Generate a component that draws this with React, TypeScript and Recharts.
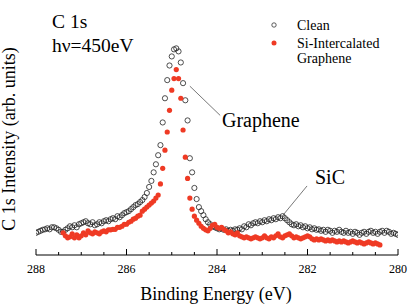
import React from 'react';
import { ScatterChart, Scatter, XAxis, YAxis, ReferenceLine } from 'recharts';

const W = 409;
const H = 305;
const FONT = '"Liberation Serif", "Times New Roman", "DejaVu Serif", serif';
const RED = '#ef3a24';

// Energy grid (eV) for each series
const cleanStartEV = 288.0;
const redStartEV = 287.4;
const stepEV = 0.05;

// Intensity (arb. units)
const cleanValues = [
  0.44, 0.46, 0.48, 0.50, 0.51, 0.53, 0.51, 0.55, 0.55, 0.53,
  0.50, 0.46, 0.46, 0.50, 0.53, 0.57, 0.55, 0.59, 0.55, 0.61,
  0.63, 0.65, 0.67, 0.63, 0.61, 0.65, 0.59, 0.61, 0.65, 0.63,
  0.67, 0.69, 0.67, 0.71, 0.73, 0.71, 0.77, 0.75, 0.79, 0.83,
  0.85, 0.87, 0.91, 0.95, 0.99, 1.01, 1.05, 1.09, 1.15, 1.23,
  1.35, 1.47, 1.64, 1.80, 1.98, 2.18, 2.63, 3.11, 3.47, 3.76,
  3.94, 4.08, 4.10, 4.04, 3.82, 3.41, 3.07, 2.67, 1.92, 1.64,
  1.33, 1.11, 0.95, 0.87, 0.79, 0.71, 0.65, 0.61, 0.57, 0.55,
  0.53, 0.51, 0.53, 0.50, 0.51, 0.48, 0.50, 0.48, 0.51, 0.50,
  0.53, 0.51, 0.57, 0.55, 0.61, 0.59, 0.63, 0.65, 0.63, 0.67,
  0.65, 0.69, 0.67, 0.71, 0.69, 0.73, 0.71, 0.75, 0.73, 0.77,
  0.73, 0.69, 0.65, 0.61, 0.59, 0.61, 0.57, 0.59, 0.55, 0.57,
  0.53, 0.55, 0.51, 0.53, 0.50, 0.51, 0.48, 0.50, 0.46, 0.50,
  0.48, 0.44, 0.48, 0.46, 0.50, 0.46, 0.44, 0.48, 0.44, 0.46,
  0.42, 0.46, 0.44, 0.40, 0.44, 0.46, 0.42, 0.46, 0.48, 0.44,
  0.46, 0.42, 0.46, 0.48, 0.44, 0.48, 0.46, 0.42, 0.44, 0.42, 0.40,
];

const redValues = [
  0.44, 0.38, 0.34, 0.36, 0.42, 0.34, 0.40, 0.34,
  0.38, 0.44, 0.40, 0.48, 0.44, 0.42, 0.46, 0.44, 0.42, 0.46,
  0.48, 0.46, 0.50, 0.50, 0.51, 0.51, 0.55, 0.55, 0.57, 0.61,
  0.61, 0.65, 0.67, 0.71, 0.73, 0.77, 0.79, 0.87, 0.91, 0.95,
  0.99, 1.03, 1.07, 1.13, 1.19, 1.41, 1.72, 2.08, 2.44, 2.87,
  3.27, 3.50, 3.68, 3.50, 3.11, 2.48, 1.94, 1.52, 1.13, 0.91,
  0.77, 0.69, 0.63, 0.57, 0.53, 0.50, 0.48, 0.53, 0.59, 0.61,
  0.55, 0.53, 0.55, 0.51, 0.48, 0.44, 0.46, 0.42, 0.40, 0.44,
  0.38, 0.36, 0.34, 0.36, 0.34, 0.32, 0.34, 0.36, 0.34, 0.32,
  0.34, 0.38, 0.34, 0.32, 0.36, 0.34, 0.38, 0.42, 0.36, 0.34,
  0.38, 0.40, 0.42, 0.38, 0.34, 0.36, 0.34, 0.32, 0.34, 0.36,
  0.38, 0.36, 0.32, 0.30, 0.32, 0.30, 0.32, 0.30, 0.28, 0.30,
  0.28, 0.30, 0.28, 0.26, 0.28, 0.26, 0.28, 0.26, 0.24, 0.26,
  0.28, 0.26, 0.24, 0.26, 0.24, 0.22, 0.24, 0.26, 0.24, 0.22,
  0.24, 0.22, 0.20,
];

const xTicks = [288, 287.5, 287, 286.5, 286, 285.5, 285, 284.5, 284, 283.5, 283, 282.5, 282, 281.5, 281, 280.5, 280];
const xTickLabels = ['288', '286', '284', '282', '280'];
const yTicks = [0, 0.2, 0.4, 0.6, 0.8, 1, 1.2, 1.4, 1.6, 1.8, 2, 2.2, 2.4, 2.6, 2.8, 3, 3.2, 3.4, 3.6, 3.8, 4, 4.2, 4.4, 4.6, 4.8, 5];

const cleanData = cleanValues.map((v, i) => ({ e: +(cleanStartEV - i * stepEV).toFixed(3), v }));
const redData = redValues.map((v, i) => ({ e: +(redStartEV - i * stepEV).toFixed(3), v }));

const isMajorX = (v: number) => xTickLabels.includes(String(v));
const isMajorY = (v: number) => Math.abs(v - Math.round(v)) < 1e-6;

const serif = { fontFamily: FONT };

const BottomTick = (p: any) => {
  const major = isMajorX(p.payload.value);
  return (
    <g>
      <line x1={p.x} x2={p.x} y1={p.y} y2={p.y - (major ? 6 : 3)} stroke="#000" strokeWidth={1} />
      {major && (
        <text x={p.x} y={p.y + 18} textAnchor="middle" fontSize={12} style={serif} fill="#000">
          {String(p.payload.value)}
        </text>
      )}
    </g>
  );
};
const TopTick = (p: any) => {
  const major = isMajorX(p.payload.value);
  return <line x1={p.x} x2={p.x} y1={p.y} y2={p.y + (major ? 6 : 3)} stroke="#000" strokeWidth={1} />;
};
const LeftTick = (p: any) => {
  const major = isMajorY(p.payload.value);
  return <line x1={p.x} x2={p.x + (major ? 5 : 2.5)} y1={p.y} y2={p.y} stroke="#000" strokeWidth={1} />;
};
const RightTick = (p: any) => {
  const major = isMajorY(p.payload.value);
  return <line x1={p.x} x2={p.x - (major ? 5 : 2.5)} y1={p.y} y2={p.y} stroke="#000" strokeWidth={1} />;
};

const OpenCircle = (p: any) => (
  <circle cx={p.cx} cy={p.cy} r={2.6} fill="none" stroke="#222" strokeWidth={0.8} />
);
const RedDot = (p: any) => <circle cx={p.cx} cy={p.cy} r={2.6} fill={RED} stroke="none" />;

export default function App() {
  return (
    <div style={{ position: 'absolute', left: 0, top: 0, width: W, height: H, background: '#fff' }}>
      <ScatterChart width={W} height={H} margin={{ top: 3, right: 11, bottom: 0, left: 36 }}>
        <XAxis
          xAxisId="b"
          dataKey="e"
          type="number"
          domain={[280, 288]}
          reversed
          allowDataOverflow
          ticks={xTicks}
          interval={0}
          height={50}
          tickSize={0}
          tickMargin={0}
          tickLine={false}
          tick={<BottomTick />}
          axisLine={{ stroke: '#000', strokeWidth: 1 }}
        />
        <XAxis
          xAxisId="t"
          orientation="top"
          type="number"
          domain={[280, 288]}
          reversed
          allowDataOverflow
          ticks={xTicks}
          interval={0}
          height={0}
          tickSize={0}
          tickMargin={0}
          tickLine={false}
          tick={<TopTick />}
          axisLine={{ stroke: '#000', strokeWidth: 1 }}
        />
        <YAxis
          yAxisId="l"
          dataKey="v"
          type="number"
          domain={[0, 5]}
          allowDataOverflow
          ticks={yTicks}
          interval={0}
          width={0}
          tickSize={0}
          tickMargin={0}
          tickLine={false}
          tick={<LeftTick />}
          axisLine={{ stroke: '#000', strokeWidth: 1 }}
        />
        <YAxis
          yAxisId="r"
          orientation="right"
          type="number"
          domain={[0, 5]}
          allowDataOverflow
          ticks={yTicks}
          interval={0}
          width={0}
          tickSize={0}
          tickMargin={0}
          tickLine={false}
          tick={<RightTick />}
          axisLine={{ stroke: '#000', strokeWidth: 1 }}
        />
        <ReferenceLine
          xAxisId="b"
          yAxisId="l"
          segment={[{ x: 284.6, y: 3.35 }, { x: 283.93, y: 2.77 }]}
          stroke="#555"
          strokeWidth={0.8}
          ifOverflow="visible"
        />
        <ReferenceLine
          xAxisId="b"
          yAxisId="l"
          segment={[{ x: 282.01, y: 1.37 }, { x: 282.56, y: 0.77 }]}
          stroke="#555"
          strokeWidth={0.8}
          ifOverflow="visible"
        />
        <Scatter xAxisId="b" yAxisId="l" data={cleanData} shape={OpenCircle} isAnimationActive={false} />
        <Scatter xAxisId="b" yAxisId="l" data={redData} shape={RedDot} isAnimationActive={false} />
      </ScatterChart>
      <svg
        width={W}
        height={H}
        style={{ position: 'absolute', left: 0, top: 0, pointerEvents: 'none', fontFamily: FONT }}
      >
        <text x={52} y={28} fontSize={19.5} style={serif} fill="#000">C 1s</text>
        <text x={52} y={52} fontSize={19.5} style={serif} fill="#000">hν=450eV</text>
        <circle cx={274} cy={25} r={2.2} fill="none" stroke="#333" strokeWidth={0.8} />
        <text x={297} y={30} fontSize={14} style={serif} fill="#000">Clean</text>
        <circle cx={274} cy={43} r={2.5} fill={RED} />
        <text x={297} y={48} fontSize={14} style={serif} fill="#000">Si-Intercalated</text>
        <text x={297} y={63} fontSize={14} style={serif} fill="#000">Graphene</text>
        <text x={222} y={127} fontSize={20} style={serif} fill="#000">Graphene</text>
        <text x={315} y={184} fontSize={20} style={serif} fill="#000">SiC</text>
        <text x={216} y={300} fontSize={18} textAnchor="middle" style={serif} fill="#000">Binding Energy (eV)</text>
        <text x={15} y={139} fontSize={18} textAnchor="middle" style={serif} fill="#000" transform="rotate(-90 15 139)">
          C 1s Intensity (arb. units)
        </text>
      </svg>
    </div>
  );
}
